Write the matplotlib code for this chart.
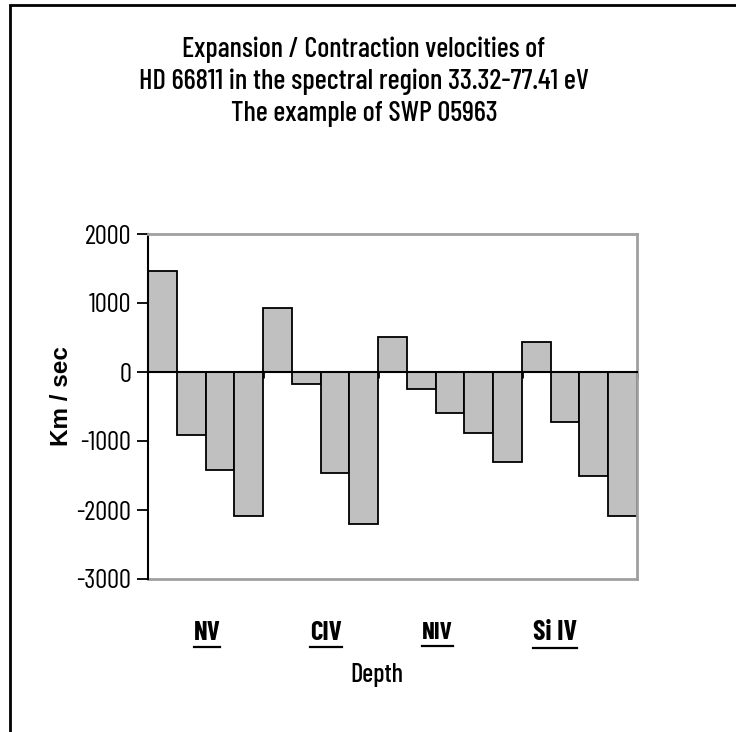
import numpy as np
import matplotlib
matplotlib.use('Agg')
import matplotlib.pyplot as plt
from matplotlib.lines import Line2D
from matplotlib.patches import Rectangle
from matplotlib import font_manager

# velocities per line component (km/s)
velocities = [1460, -920, -1420, -2090,
              930, -170, -1460, -2200,
              510, -240, -600, -890, -1310,
              430, -730, -1510, -2090]
groupNames = ['NV', 'CIV', 'NIV', 'Si IV']
groupLabelPos = [1.55, 5.69, 9.55, 13.65]
groupEnds = [4, 8, 13, 17]
yTicks = [2000, 1000, 0, -1000, -2000, -3000]
titleLines = ['Expansion / Contraction velocities of',
              'HD 66811 in the spectral region 33.32-77.41 eV',
              'The example of SWP 05963']

fonts = font_manager.fontManager.ttflist
available = {f.name for f in fonts}
narrowFont = next((f for f in ['Arial Narrow', 'Liberation Sans Narrow', 'Barlow Condensed',
                               'Roboto Condensed', 'Archivo Narrow'] if f in available), 'DejaVu Sans')
plt.rcParams['font.family'] = [narrowFont, 'DejaVu Sans']

W, H = 736, 732
fig = plt.figure(figsize=(W / 100, H / 100), dpi=100)
fig.patches.append(Rectangle((10 / W, -0.1), 1.2, 1 - 5 / H + 0.1, transform=fig.transFigure,
                             fill=False, edgecolor='black', linewidth=2.0))

ax = fig.add_axes([148 / W, 1 - 579 / H, 489 / W, 345 / H])
x = np.arange(len(velocities))
ax.bar(x, velocities, width=1.0, color='#c0c0c0', edgecolor='black', linewidth=1.3, zorder=2)

ax.set_xlim(-0.5, len(velocities) - 0.5)
ax.set_ylim(-3000, 2000)
ax.set_yticks(yTicks)
ax.set_yticklabels([str(v) for v in yTicks], fontsize=17)
ax.tick_params(axis='y', direction='out', length=8, width=1.3, pad=4)

# category axis crossing at zero
ax.spines['bottom'].set_position(('data', 0))
ax.spines['bottom'].set_color('black')
ax.spines['bottom'].set_linewidth(1.5)
ax.spines['bottom'].set_zorder(3)
ax.set_xticks(np.array(groupEnds) - 0.5)
ax.set_xticklabels([])
ax.tick_params(axis='x', direction='out', length=4, width=2.0)
ax.axhline(-3000, color='#a0a0a0', linewidth=2.0, clip_on=False)

ax.spines['left'].set_color('black')
ax.spines['left'].set_linewidth(1.5)
for s in ['top', 'right']:
    ax.spines[s].set_color('#a0a0a0')
    ax.spines[s].set_linewidth(2.0)

ylab = fig.text(62 / W, 1 - 396 / H, 'Km / sec', rotation=90, ha='center', va='center',
                fontsize=17, fontweight='bold', family=['Liberation Sans', 'DejaVu Sans'])

titles = []
for line, yPix in zip(titleLines, [50, 82, 114]):
    titles.append(fig.text(364 / W, 1 - yPix / H, line, ha='center', va='center', fontsize=20,
                           fontweight='medium'))

labels = []
for name, pos in zip(groupNames, groupLabelPos):
    t = ax.text(pos, -(633 - 579) / 345, name, transform=ax.get_xaxis_transform(),
                ha='center', va='center', fontsize=18, fontweight='bold')
    labels.append(t)

depth = fig.text(377 / W, 1 - 675 / H, 'Depth', ha='center', va='center', fontsize=18,
                 fontweight='medium')


def fitText(t, target, vertical=False):
    """scale the font so the rendered text spans target pixels"""
    fig.canvas.draw()
    bb = t.get_window_extent(fig.canvas.get_renderer())
    size = bb.height if vertical else bb.width
    t.set_fontsize(t.get_fontsize() * target / size)


for t, w in zip(titles, [363, 450, 267]):
    fitText(t, w)
for t, w in zip(labels, [27, 32, 31, 44]):
    fitText(t, w)
fitText(depth, 53)
fitText(ylab, 100, vertical=True)

fig.canvas.draw()
tl = ax.get_yticklabels()
bb = tl[-1].get_window_extent(fig.canvas.get_renderer())
tickSize = tl[-1].get_fontsize() * 55 / bb.width
ax.tick_params(axis='y', labelsize=tickSize)

# underline the group labels
fig.canvas.draw()
r = fig.canvas.get_renderer()
for t in labels:
    bb = t.get_window_extent(r)
    yline = bb.y0 - 2
    fig.add_artist(Line2D([bb.x0 / W, bb.x1 / W], [yline / H, yline / H],
                          transform=fig.transFigure, color='black', linewidth=1.6))

fig.savefig('out.png', dpi=100)
